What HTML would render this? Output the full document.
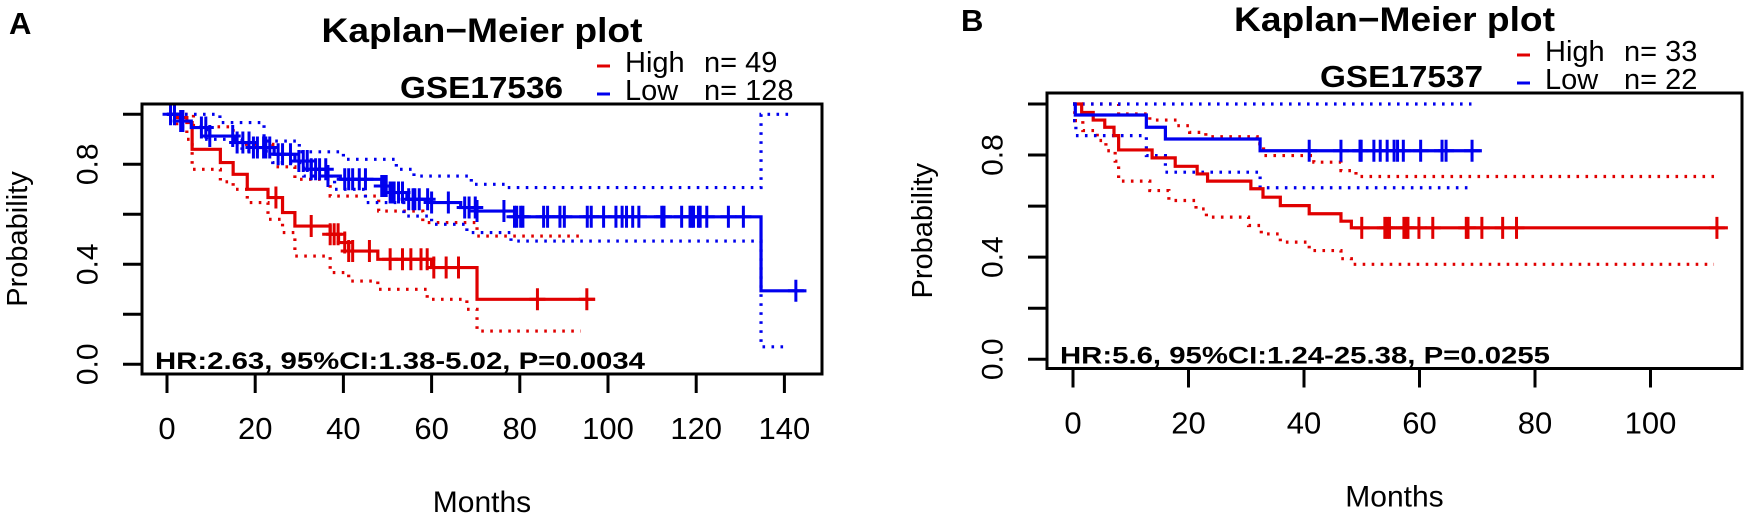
<!DOCTYPE html>
<html><head><meta charset="utf-8">
<style>
html,body{margin:0;padding:0;background:#fff;}
svg{display:block;font-family:"Liberation Sans",Arial,sans-serif;}
</style></head>
<body>
<svg id="fig" width="1748" height="515" viewBox="0 0 1748 515" xmlns="http://www.w3.org/2000/svg">
<text x="9" y="34" font-size="31" font-weight="bold">A</text>
<text x="961" y="31" font-size="31" font-weight="bold">B</text>
</svg>
<script>
// ===== Panel A data (GSE17536) =====
const aHighTimes = [0,2.2,4.5,5.7,12.1,15,18.2,22.9,26.2,29,37,38.9,41.2,47.8,60,70.3];
const aHighSurv  = [1,0.987,0.967,0.86,0.807,0.76,0.70,0.667,0.607,0.553,0.52,0.487,0.453,0.42,0.387,0.26];
const aHighEnd = 97.1;
const aHighCensor = [24.7,32.7,37,37.9,38.8,40.3,41.2,42.1,45.9,50.6,53.4,55.3,57.6,59,60.5,63.3,66.1,84,95.2];
const aHighUpperTimes = [0,6,15,24,29,37,48,58,70.3];
const aHighUpper = [1,0.95,0.88,0.79,0.74,0.673,0.613,0.567,0.513];
const aHighLowerTimes = [0,2.2,4.5,5.7,12.1,15,18.2,22.9,26.2,29,37,41.2,47.8,59,68,70.3];
const aHighLower = [1,0.95,0.9,0.78,0.73,0.70,0.647,0.58,0.527,0.433,0.367,0.333,0.30,0.26,0.22,0.133];
const aHighCIEnd = 93.8;
const aLowTimes = [0,3.1,5.5,9.7,15.4,19.6,24.3,29,32.7,36.5,39.3,48.7,50.6,54.4,60,66.6,70.3,78.8,134.7];
const aLowSurv  = [1,0.973,0.947,0.913,0.887,0.867,0.84,0.813,0.78,0.753,0.74,0.713,0.687,0.66,0.647,0.627,0.613,0.59,0.294];
const aLowEnd = 145;
const aLowCensor = [0.8,1.7,3.1,3.6,7.8,8.8,9.7,14.9,15.9,17.2,18.6,19.6,20.5,21.9,22.4,23.3,25.2,26.2,28,29.9,30.9,31.8,32.7,33.7,34.6,36,36.5,40.3,41.2,42.1,43.6,45,48.7,49.2,49.7,50.6,51.1,51.5,52.5,53.4,54.8,55.8,56.2,57.2,59.1,60,63.8,67.5,68.5,69.9,70.3,76.4,78.8,79.3,80.2,80.7,85.4,86.3,89.1,90.1,95.3,96.2,99,101.8,103.2,104.2,105.6,107,112.2,112.7,116.7,118.6,119,119.4,120.5,120.9,122.4,127.3,130.7,142.6];
const aLowUpperTimes = [0,12,22,30,40,52,56,69,77,134.7];
const aLowUpper = [1,0.967,0.893,0.85,0.82,0.78,0.753,0.72,0.707,1.0];
const aLowLowerTimes = [0,3,9,17,24,31,38,45,53.7,60,68,78,134.7];
const aLowLower = [1,0.95,0.9,0.853,0.807,0.753,0.7,0.647,0.593,0.56,0.527,0.493,0.07];
const aLowCIEnd = 141;
const aXTicks = [0,20,40,60,80,100,120,140];

// ===== Panel B data (GSE17537) =====
const bHighTimes = [0,1.5,3.5,5.5,7.1,7.9,13.7,17.7,21.5,23.3,30.8,32.9,35.9,40.9,46.4,48.2];
const bHighSurv  = [1,0.967,0.937,0.909,0.876,0.82,0.789,0.756,0.726,0.698,0.668,0.635,0.602,0.57,0.541,0.515];
const bHighEnd = 113.4;
const bHighCensor = [50,54,54.4,54.8,57.3,57.7,58,59.9,62.3,68.1,68.4,70.8,74.4,76.8,111.5];
const bHighUpperTimes = [0,7.9,13.3,18,20.2,23,31.9,33,41.7,46.4,49];
const bHighUpper = [1,0.961,0.937,0.915,0.889,0.872,0.844,0.798,0.772,0.739,0.716];
const bHighLowerTimes = [0,0.3,1.7,4.2,5.7,7.3,7.9,13.3,16.6,21.3,23.1,30.4,32.6,35.9,40.9,46.4,48.2];
const bHighLower = [1,0.935,0.896,0.857,0.817,0.776,0.698,0.661,0.622,0.589,0.557,0.524,0.491,0.459,0.426,0.394,0.372];
const bHighCIEnd = 111;
const bLowTimes = [0,0.4,12.7,16,32.4];
const bLowSurv  = [1,0.957,0.909,0.863,0.817];
const bLowEnd = 70.8;
const bLowCensor = [40.9,46.4,49.7,49.9,52.1,53.2,54.4,55.6,56.2,57.2,60.2,63.9,64.6,69.1];
const bLowUpperTimes = [0];
const bLowUpper = [1];
const bLowLowerTimes = [0,0.5,12.7,16,32.4];
const bLowLower = [0.935,0.876,0.798,0.733,0.672];
const bLowCIEnd = 69;
const bXTicks = [0,20,40,60,80,100];
const yTicks = [0,0.2,0.4,0.6,0.8,1.0];
const yLabels = ["0.0","","0.4","","0.8",""];

const NS = "http://www.w3.org/2000/svg";
const svg = document.getElementById("fig");
const RED = "#e00000", BLUE = "#0000ee";

function mk(tag, attrs, parent) {
  const e = document.createElementNS(NS, tag);
  for (const k in attrs) e.setAttribute(k, attrs[k]);
  (parent || svg).appendChild(e);
  return e;
}

function stepD(X, Y, times, surv, end) {
  let d = "M" + X(times[0]) + " " + Y(surv[0]);
  for (let i = 1; i < times.length; i++) {
    d += " H" + X(times[i]) + " V" + Y(surv[i]);
  }
  d += " H" + X(end);
  return d;
}

function panel(cfg) {
  const g = mk("g", {});
  
  
  const X = t => cfg.x0 + t * cfg.xs;
  const Y = v => cfg.y0 - v * cfg.ys;

  // curves: CIs first
  cfg.series.forEach(s => {
    const up = mk("path", {d: stepD(X, Y, s.upT, s.up, s.ciEnd), fill: "none", stroke: s.color, "stroke-width": 3.2, "stroke-dasharray": "2.6 6.4"}, g);
    
    
    const lo = mk("path", {d: stepD(X, Y, s.loT, s.lo, s.ciEnd), fill: "none", stroke: s.color, "stroke-width": 3.2, "stroke-dasharray": "2.6 6.4"}, g);
    
    
  });
  cfg.series.forEach(s => {
    const p = mk("path", {d: stepD(X, Y, s.t, s.s, s.end), fill: "none", stroke: s.color, "stroke-width": 3.2}, g);
    
    
    s.cens.forEach(c => {
      let v = s.s[0];
      for (let i = 0; i < s.t.length; i++) if (s.t[i] <= c) v = s.s[i];
      const m = mk("path", {d: "M" + X(c) + " " + (Y(v) - 11) + " V" + (Y(v) + 11) + " M" + (X(c) - 8) + " " + Y(v) + " H" + (X(c) + 8), stroke: s.color, "stroke-width": 3, fill: "none"}, g);
      
      
    });
  });

  // box
  const box = mk("rect", {x: cfg.bx1, y: cfg.by1, width: cfg.bx2 - cfg.bx1, height: cfg.by2 - cfg.by1, fill: "none", stroke: "#000", "stroke-width": 3}, g);
  
  

  // y ticks
  yTicks.forEach((v, i) => {
    const t = mk("line", {x1: cfg.bx1 - 19, x2: cfg.bx1, y1: Y(v), y2: Y(v), stroke: "#000", "stroke-width": 3}, g);
    
    
    if (yLabels[i]) {
      const lx = cfg.bx1 - 54;
      const tx = mk("text", {x: lx, y: Y(v), "font-size": 30, "text-anchor": "middle", "dominant-baseline": "central", transform: "rotate(-90 " + lx + " " + Y(v) + ")"}, g);
      tx.textContent = yLabels[i];
      
      
    }
  });
  // x ticks
  cfg.xticks.forEach(v => {
    const t = mk("line", {x1: X(v), x2: X(v), y1: cfg.by2, y2: cfg.by2 + 19, stroke: "#000", "stroke-width": 3}, g);
    
    
    const tx = mk("text", {x: X(v), y: cfg.by2 + 65, "font-size": 31, "text-anchor": "middle"}, g);
    tx.textContent = String(v);
    
    
  });
  const cx = (cfg.bx1 + cfg.bx2) / 2;
  const xt = mk("text", {x: cx, y: cfg.by2 + 138, "font-size": 30, "text-anchor": "middle"}, g);
  xt.textContent = "Months";
  
  
  const yx = cfg.bx1 - 124, yy = (cfg.by1 + cfg.by2) / 2;
  const yt = mk("text", {x: yx, y: yy, "font-size": 29, "text-anchor": "middle", "dominant-baseline": "central", transform: "rotate(-90 " + yx + " " + yy + ")"}, g);
  yt.textContent = "Probability";
  
  

  const tt = mk("text", {x: cx, y: cfg.by1 - 62, "font-size": 34, "font-weight": "bold", "text-anchor": "middle", textLength: 321, lengthAdjust: "spacingAndGlyphs"}, g);
  tt.textContent = "Kaplan\u2212Meier plot";
  
  
  const gs = mk("text", {x: cfg.bx2 - 259, y: cfg.by1 - 6, "font-size": 31, "font-weight": "bold", "text-anchor": "end", textLength: 163, lengthAdjust: "spacingAndGlyphs"}, g);
  gs.textContent = cfg.dataset;
  
  

  // legend
  cfg.series.forEach((s, i) => {
    const by = cfg.by1 - 34 + i * 28;
    const d = mk("line", {x1: cfg.bx2 - 225, x2: cfg.bx2 - 212, y1: by - 4, y2: by - 4, stroke: s.color, "stroke-width": 3}, g);
    
    
    const l = mk("text", {x: cfg.bx2 - 197, y: by + 2, "font-size": 29}, g);
    l.textContent = s.label;
    
    
    const n = mk("text", {x: cfg.bx2 - 118, y: by + 2, "font-size": 29}, g);
    n.textContent = "n= " + s.n;
    
    
  });

  const hr = mk("text", {x: cfg.bx1 + 13, y: cfg.by2 - 5, "font-size": 24, "font-weight": "bold", textLength: 490, lengthAdjust: "spacingAndGlyphs"}, g);
  hr.textContent = cfg.hr;
  
  
}

panel({
  name: "panel-a-gse17536", dataset: "GSE17536",
  x0: 167, xs: 4.41, y0: 364.3, ys: 250,
  bx1: 142, bx2: 822, by1: 104, by2: 374,
  xticks: aXTicks,
  hr: "HR:2.63, 95%CI:1.38-5.02, P=0.0034",
  series: [
    {key: "high", label: "High", n: 49, color: RED, t: aHighTimes, s: aHighSurv, end: aHighEnd, cens: aHighCensor,
     upT: aHighUpperTimes, up: aHighUpper, loT: aHighLowerTimes, lo: aHighLower, ciEnd: aHighCIEnd},
    {key: "low", label: "Low", n: 128, color: BLUE, t: aLowTimes, s: aLowSurv, end: aLowEnd, cens: aLowCensor,
     upT: aLowUpperTimes, up: aLowUpper, loT: aLowLowerTimes, lo: aLowLower, ciEnd: aLowCIEnd}
  ]
});
panel({
  name: "panel-b-gse17537", dataset: "GSE17537",
  x0: 1073, xs: 5.775, y0: 359.3, ys: 255.3,
  bx1: 1047, bx2: 1742, by1: 93, by2: 368.5,
  xticks: bXTicks,
  hr: "HR:5.6, 95%CI:1.24-25.38, P=0.0255",
  series: [
    {key: "high", label: "High", n: 33, color: RED, t: bHighTimes, s: bHighSurv, end: bHighEnd, cens: bHighCensor,
     upT: bHighUpperTimes, up: bHighUpper, loT: bHighLowerTimes, lo: bHighLower, ciEnd: bHighCIEnd},
    {key: "low", label: "Low", n: 22, color: BLUE, t: bLowTimes, s: bLowSurv, end: bLowEnd, cens: bLowCensor,
     upT: bLowUpperTimes, up: bLowUpper, loT: bLowLowerTimes, lo: bLowLower, ciEnd: bLowCIEnd}
  ]
});
</script>
</body></html>
